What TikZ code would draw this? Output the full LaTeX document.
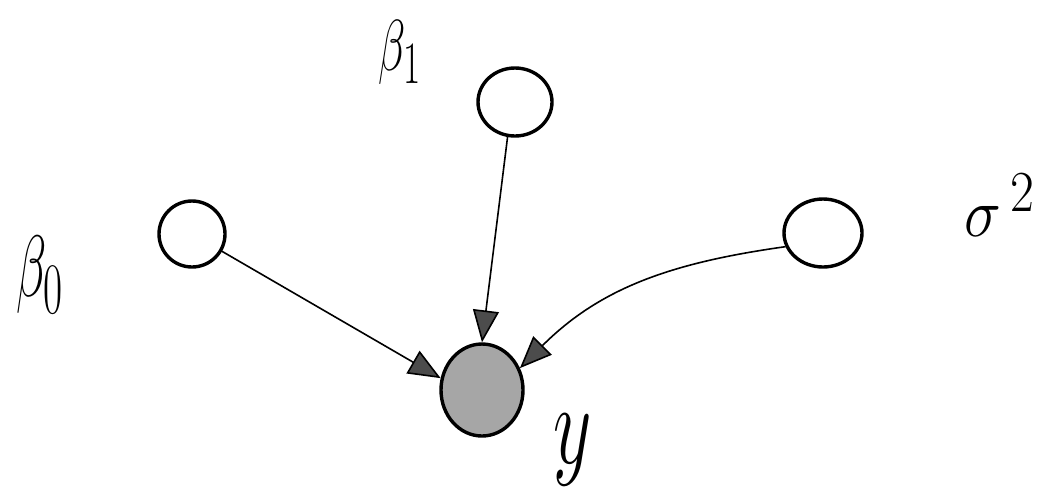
\documentclass[tikz,border=0pt]{standalone}
\usetikzlibrary{arrows.meta,shapes.geometric}
\begin{document}
\begin{tikzpicture}[x=1pt,y=-1pt,
  var/.style={draw, ellipse, line width=3.4pt, inner sep=0pt},
  obs/.style={var, fill=black!35},
  arr/.style={line width=1.6pt, -{Triangle[length=32pt,width=26pt,fill=black!70]}},
  lab/.style={inner sep=0pt, font=\Huge}]
\useasboundingbox (0,0) rectangle (1046,491);
\node[var, minimum width=74pt, minimum height=68pt] (b1) at (515,102) {};
\node[var, minimum width=66pt, minimum height=66pt] (b0) at (192,234) {};
\node[var, minimum width=78pt, minimum height=68pt] (s) at (823,233) {};
\node[obs, minimum width=82pt, minimum height=92pt] (y) at (482,390) {};
\draw[arr] (b1.258) -- (y.north);
\draw[arr] (b0.-30) -- (y.164);
\draw[arr] (s.200) to[out=188, in=45] (y.30);
\node[lab] (lb1) at (400,52) {\scalebox{1.8}[2.9]{$\beta_1$}};
\node[lab] (lb0) at (40,275) {\scalebox{2}[3.5]{$\beta_0$}};
\node[lab] (ls) at (1000,205) {\scalebox{2.5}[2.8]{$\sigma^{\,2}$}};
\node[lab] (ly) at (573,450) {\scalebox{3}[4.6]{$y$}};
\end{tikzpicture}
\end{document}
